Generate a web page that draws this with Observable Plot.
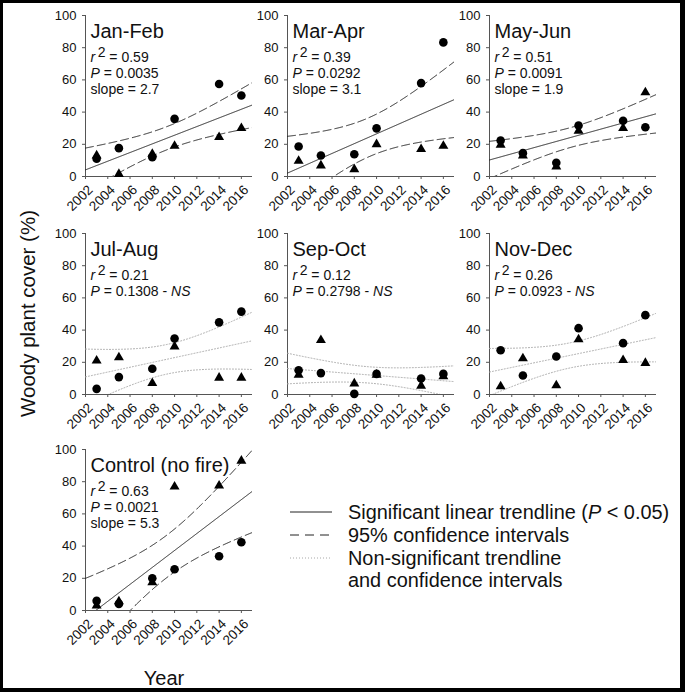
<!DOCTYPE html>
<html>
<head>
<meta charset="utf-8">
<script src="https://cdn.jsdelivr.net/npm/d3@7"></script>
<script src="https://cdn.jsdelivr.net/npm/@observablehq/plot@0.6"></script>
<style>
  html, body { margin: 0; padding: 0; background: #fff; }
  #fig { position: relative; width: 685px; height: 692px; overflow: hidden; background: #fff;
         font-family: "Liberation Sans", Arial, sans-serif; color: #111; }
  .panel { position: absolute; }
  .panel svg { overflow: visible; display: block; }
  #frame { position: absolute; left: 0; top: 0; width: 685px; height: 692px; box-sizing: border-box;
           border-style: solid; border-color: #000; border-width: 3px 5px 4px 3px; pointer-events: none; }
  #overlay { position: absolute; left: 0; top: 0; pointer-events: none; }
</style>
</head>
<body>
<div id="fig"></div>
<script>
// ---------------- data ----------------
const years = [2003, 2005, 2008, 2010, 2014, 2016];
const xDomain = [2002, 2017];
const yDomain = [0, 100];
const xTicks = [2002, 2004, 2006, 2008, 2010, 2012, 2014, 2016];
const yTicks = [0, 20, 40, 60, 80, 100];

const panelTitles = ["Jan-Feb", "Mar-Apr", "May-Jun", "Jul-Aug", "Sep-Oct", "Nov-Dec", "Control (no fire)"];
const r2Labels = ["0.59", "0.39", "0.51", "0.21", "0.12", "0.26", "0.63"];
const pLabels = ["0.0035", "0.0292", "0.0091", "0.1308", "0.2798", "0.0923", "0.0021"];
const slopeLabels = ["2.7", "3.1", "1.9", null, null, null, "5.3"];
const significant = [true, true, true, false, false, false, true];

const circlesJanFeb  = [11, 17.6, 12, 35.8, 57.5, 50.3];
const trianglesJanFeb = [13, 1.5, 14, 19, 24.4, 30];
const circlesMarApr  = [18.6, 13, 13.8, 29.9, 58, 83.3];
const trianglesMarApr = [9.7, 6.8, 4.5, 20, 17, 19];
const circlesMayJun  = [22.4, 14.5, 8.5, 31.7, 34.6, 30.6];
const trianglesMayJun = [19.7, 13, 6.2, 28.4, 30, 52.2];
const circlesJulAug  = [3.5, 10.8, 16, 34.8, 44.8, 51.5];
const trianglesJulAug = [21, 23, 7, 29.8, 10.4, 10.4];
const circlesSepOct  = [15.1, 13.3, 0.4, 12.8, 9.9, 12.8];
const trianglesSepOct = [12.2, 33.7, 6.8, 12.2, 5.4, 11.2];
const circlesNovDec  = [27.5, 11.8, 23.6, 41.2, 31.9, 49.3];
const trianglesNovDec = [5, 22.4, 5.6, 34.2, 21.3, 19.5];
const circlesControl  = [6, 4.1, 20, 25.6, 33.7, 42.4];
const trianglesControl = [3.1, 5.6, 17.4, 76.9, 77.5, 93];

const circleSeries = [circlesJanFeb, circlesMarApr, circlesMayJun, circlesJulAug, circlesSepOct, circlesNovDec, circlesControl];
const triangleSeries = [trianglesJanFeb, trianglesMarApr, trianglesMayJun, trianglesJulAug, trianglesSepOct, trianglesNovDec, trianglesControl];

const yTitle = "Woody plant cover (%)";
const xTitle = "Year";
const legendLabels = ["Significant linear trendline (", "95% confidence intervals", "Non-significant trendline", "and confidence intervals"];

// Student t critical value (two-sided 95%, df = 10) for the confidence band
const tCrit = 2.228;

// ---------------- layout ----------------
const FONT = '"Liberation Sans", Arial, sans-serif';
const colX = [85, 287, 489];     // pixel x of each column's y axis
const rowY = [15, 233, 449];     // pixel y of each row's top (y = 100)
const plotW = 167, plotH = 161;
const ML = 45, MR = 12, MT = 8, MB = 55;

const axisColor = "#555";
const trendColor = "#222";
const nsColor = "#a8a8a8";

const fig = document.getElementById("fig");

function regressionBand(points) {
  const n = points.length;
  const mx = d3.mean(points, d => d.year);
  const my = d3.mean(points, d => d.v);
  const sxx = d3.sum(points, d => (d.year - mx) ** 2);
  const sxy = d3.sum(points, d => (d.year - mx) * (d.v - my));
  const b = sxy / sxx, a = my - b * mx;
  const sse = d3.sum(points, d => (d.v - (a + b * d.year)) ** 2);
  const s = Math.sqrt(sse / (n - 2));
  return d3.range(xDomain[0], xDomain[1] + 1e-9, 0.05).map(x => {
    const yh = a + b * x;
    const h = tCrit * s * Math.sqrt(1 / n + (x - mx) ** 2 / sxx);
    return {x, yh, lo: yh - h, hi: yh + h};
  });
}

function stylizeStats(svg) {
  d3.select(svg).selectAll("text").each(function () {
    const t = this.textContent;
    let m;
    const sel = d3.select(this);
    if ((m = t.match(/^r2 = (.*)$/))) {
      sel.text(null);
      sel.append("tspan").attr("font-style", "italic").text("r");
      sel.append("tspan").attr("dx", 2.5).attr("dy", -5).text("2");
      sel.append("tspan").attr("dy", 5).text(" = " + m[1]);
    } else if ((m = t.match(/^P = (\S+)( - NS)?$/))) {
      sel.text(null);
      sel.append("tspan").attr("font-style", "italic").text("P");
      sel.append("tspan").text(" = " + m[1] + (m[2] ? " - " : ""));
      if (m[2]) sel.append("tspan").attr("font-style", "italic").text("NS");
    }
  });
}

panelTitles.forEach((title, i) => {
  const col = i % 3, row = Math.floor(i / 3);
  const circ = years.map((year, j) => ({year, v: circleSeries[i][j]}));
  const tri = years.map((year, j) => ({year, v: triangleSeries[i][j]}));
  const band = regressionBand(circ.concat(tri));
  const sig = significant[i];

  const lineStyle = sig
    ? {stroke: trendColor, strokeWidth: 1}
    : {stroke: nsColor, strokeWidth: 1, strokeDasharray: "1,2"};
  const ciStyle = sig
    ? {stroke: trendColor, strokeWidth: 1, strokeDasharray: "8,4"}
    : {stroke: nsColor, strokeWidth: 1, strokeDasharray: "1,2"};

  const textLines = [
    {t: title, dy: 22.5, size: 20},
    {t: "r2 = " + r2Labels[i], dy: 46.5, size: 14},
    {t: "P = " + pLabels[i] + (sig ? "" : " - NS"), dy: 62, size: 14}
  ];
  if (slopeLabels[i]) textLines.push({t: "slope = " + slopeLabels[i], dy: 78, size: 14});

  const chart = Plot.plot({
    width: ML + plotW + MR,
    height: MT + plotH + MB,
    marginLeft: ML, marginRight: MR, marginTop: MT, marginBottom: MB,
    x: {domain: xDomain, ticks: xTicks, axis: null},
    y: {domain: yDomain, ticks: yTicks, axis: null},
    style: {background: "transparent", overflow: "visible", fontFamily: FONT, fontSize: "13px", color: "#111"},
    marks: [
      Plot.axisY({ticks: yTicks, tickSize: 3, tickPadding: 6, fontSize: 13, stroke: axisColor, fill: "#111"}),
      Plot.axisX({ticks: xTicks, tickSize: 3, stroke: axisColor, tickFormat: () => ""}),
      Plot.text(xTicks, {x: d => d, text: d => String(d), frameAnchor: "bottom", rotate: -45,
                         textAnchor: "end", lineAnchor: "middle", dx: 5, dy: 11, fontSize: 13.5, fill: "#111"}),
      Plot.ruleX([xDomain[0]], {stroke: axisColor, strokeWidth: 1}),
      Plot.ruleY([yDomain[0]], {stroke: axisColor, strokeWidth: 1}),
      Plot.line(band, {x: "x", y: "hi", clip: true, ...ciStyle}),
      Plot.line(band, {x: "x", y: "lo", clip: true, ...ciStyle}),
      Plot.line(band, {x: "x", y: "yh", clip: true, ...lineStyle}),
      Plot.dot(tri, {x: "year", y: "v", symbol: "triangle", r: 3.7, fill: "#000", stroke: "none"}),
      Plot.dot(circ, {x: "year", y: "v", symbol: "circle", r: 4.3, fill: "#000", stroke: "none"}),
      ...textLines.map(L => Plot.text([L.t], {
        frameAnchor: "top-left", dx: 5, dy: L.dy, textAnchor: "start", lineAnchor: "bottom",
        fontSize: L.size, fill: "#111"
      }))
    ]
  });
  stylizeStats(chart);
  const wrap = document.createElement("div");
  wrap.className = "panel";
  wrap.style.left = (colX[col] - ML) + "px";
  wrap.style.top = (rowY[row] - MT) + "px";
  wrap.appendChild(chart);
  fig.appendChild(wrap);
});

// ---------------- axis titles and legend ----------------
const ov = d3.create("svg").attr("id", "overlay").attr("width", 685).attr("height", 692)
  .attr("font-family", FONT).attr("fill", "#111");

ov.append("text").attr("transform", "translate(35,313.5) rotate(-90)")
  .attr("text-anchor", "middle").attr("font-size", 20.5).text(yTitle);
ov.append("text").attr("x", 164).attr("y", 684.5)
  .attr("text-anchor", "middle").attr("font-size", 20).text(xTitle);

const lg = ov.append("g").attr("font-size", 19.9);
const lgX0 = 290, lgX1 = 332, lgTx = 348;
const rowsY = [512, 535, 558];
const baselines = [518.5, 541.5, 564.5, 587];
// sample lines
lg.append("line").attr("x1", lgX0).attr("x2", lgX1).attr("y1", rowsY[0]).attr("y2", rowsY[0])
  .attr("stroke", trendColor).attr("stroke-width", 1);
lg.append("line").attr("x1", lgX0).attr("x2", lgX1).attr("y1", rowsY[1]).attr("y2", rowsY[1])
  .attr("stroke", trendColor).attr("stroke-width", 1).attr("stroke-dasharray", "9,6");
lg.append("line").attr("x1", lgX0).attr("x2", lgX1).attr("y1", rowsY[2]).attr("y2", rowsY[2])
  .attr("stroke", nsColor).attr("stroke-width", 1).attr("stroke-dasharray", "1,2");
// labels
const t0 = lg.append("text").attr("x", lgTx).attr("y", baselines[0]);
t0.append("tspan").text(legendLabels[0]);
t0.append("tspan").attr("font-style", "italic").text("P");
t0.append("tspan").text(" < 0.05)");
lg.append("text").attr("x", lgTx).attr("y", baselines[1]).text(legendLabels[1]);
lg.append("text").attr("x", lgTx).attr("y", baselines[2]).text(legendLabels[2]);
lg.append("text").attr("x", lgTx).attr("y", baselines[3]).text(legendLabels[3]);

fig.appendChild(ov.node());

const frame = document.createElement("div");
frame.id = "frame";
fig.appendChild(frame);
</script>
</body>
</html>
